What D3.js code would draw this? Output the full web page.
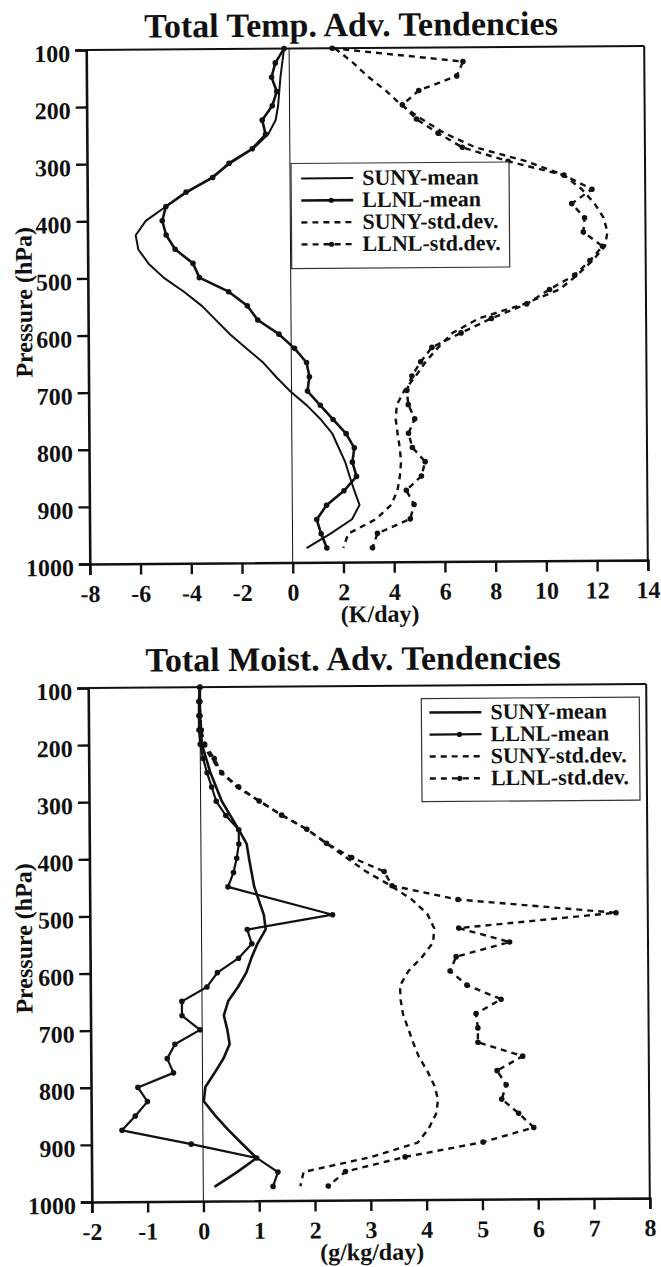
<!DOCTYPE html>
<html>
<head>
<meta charset="utf-8">
<script src="https://cdn.jsdelivr.net/npm/d3@7"></script>
<style>
	body { margin: 0; background: #fff; }
	svg text { font-family: "Liberation Serif", "Times New Roman", serif; font-weight: bold; fill: #111; }
</style>
</head>
<body>
<div id="chart"></div>
<script>

// pressure ticks shared by both panels
var pressureTicks = [100, 200, 300, 400, 500, 600, 700, 800, 900, 1000]
var tempTicks = [-8, -6, -4, -2, 0, 2, 4, 6, 8, 10, 12, 14]
var moistTicks = [-2, -1, 0, 1, 2, 3, 4, 5, 6, 7, 8]
var legendNames = ["SUNY-mean", "LLNL-mean", "SUNY-std.dev.", "LLNL-std.dev."]

// top panel, K/day : [pressure, value]
var tempSunyMean = [[100,-0.2],[150,-0.35],[200,-0.45],[225,-0.55],[250,-0.85],[275,-1.45],[300,-2.35],[325,-3.1],[350,-4.05],[375,-4.9],[400,-5.7],[425,-6.1],[450,-6.0],[475,-5.6],[500,-5.0],[525,-4.2],[550,-3.5],[575,-2.95],[600,-2.4],[625,-1.75],[650,-1.1],[675,-0.6],[700,-0.05],[725,0.6],[750,1.15],[775,1.6],[800,1.85],[825,2.1],[850,2.27],[875,2.45],[900,2.65],[925,2.35],[950,1.5],[975,0.55]]

var tempLlnlMean = [[100,-0.2],[125,-0.55],[150,-0.7],[175,-0.5],[200,-0.68],[225,-1.08],[250,-0.95],[275,-1.48],[300,-2.4],[325,-3.05],[350,-4.1],[375,-4.9],[400,-5.05],[425,-4.9],[450,-4.55],[475,-3.85],[500,-3.6],[525,-2.45],[550,-1.72],[575,-1.31],[600,-0.48],[625,0.13],[650,0.6],[675,0.71],[700,0.63],[725,1.13],[750,1.63],[775,2.14],[800,2.46],[825,2.38],[850,2.54],[875,2.04],[900,1.35],[925,0.96],[950,1.13],[975,1.35]]

var tempSunyStd = [[100,1.8],[125,2.5],[150,3.1],[175,3.8],[200,4.4],[225,5.2],[250,6.1],[275,7.3],[300,9.3],[325,10.8],[350,11.5],[375,12.0],[400,12.35],[425,12.5],[450,12.4],[475,11.9],[500,11.3],[525,10.6],[550,9.2],[575,7.4],[600,6.36],[625,5.8],[650,5.3],[675,4.9],[700,4.45],[725,4.15],[750,4.1],[775,4.17],[800,4.25],[825,4.3],[850,4.25],[875,4.15],[900,3.9],[925,3.3],[950,2.2],[975,2.0]]

var tempLlnlStd = [[100,1.7],[125,6.85],[150,6.6],[175,5.1],[200,4.45],[225,5.0],[250,5.85],[275,6.8],[300,8.6],[325,10.8],[350,11.9],[375,11.1],[400,11.6],[425,11.55],[450,12.3],[475,11.8],[500,11.2],[525,10.2],[550,9.3],[575,7.9],[600,6.7],[625,5.55],[650,5.1],[675,4.75],[700,4.55],[725,4.6],[750,4.85],[775,4.6],[800,4.75],[825,5.25],[850,5.1],[875,4.5],[900,4.8],[925,4.65],[950,3.35],[975,3.15]]

// bottom panel, g/kg/day : [pressure, value]
var moistSunyMean = [[100,0],[150,0.0],[200,0.03],[250,0.18],[300,0.38],[350,0.68],[375,0.82],[400,0.86],[450,0.95],[500,1.12],[525,1.15],[550,1.0],[575,0.89],[600,0.8],[625,0.65],[650,0.47],[675,0.39],[700,0.45],[725,0.49],[750,0.38],[775,0.22],[800,0.05],[825,0.02],[850,0.22],[875,0.45],[900,0.7],[925,0.96],[950,0.6],[975,0.2]]

var moistLlnlMean = [[100,0],[125,-0.02],[150,-0.02],[175,-0.02],[200,0.0],[225,0.05],[250,0.12],[275,0.2],[300,0.28],[325,0.45],[350,0.68],[375,0.68],[400,0.64],[425,0.58],[450,0.48],[500,2.35],[525,0.82],[550,0.9],[575,0.66],[600,0.28],[625,0.09],[650,-0.36],[675,-0.36],[700,-0.04],[725,-0.49],[750,-0.63],[775,-0.52],[800,-1.16],[825,-0.99],[850,-1.21],[875,-1.45],[900,-0.21],[925,0.96],[950,1.34],[975,1.25]]

var moistSunyStd = [[100,0],[150,0.0],[200,0.05],[225,0.2],[250,0.38],[275,0.65],[300,1.05],[325,1.45],[350,1.9],[375,2.25],[400,2.6],[425,2.96],[450,3.4],[475,3.78],[500,4.05],[525,4.17],[550,4.15],[575,3.95],[600,3.7],[625,3.55],[650,3.56],[675,3.6],[700,3.69],[725,3.78],[750,3.88],[775,4.03],[800,4.15],[825,4.22],[850,4.18],[875,4.05],[900,3.85],[925,3.0],[950,1.8],[975,1.74]]

var moistLlnlStd = [[100,0],[125,0],[150,0.0],[175,0.02],[200,0.08],[225,0.25],[250,0.38],[275,0.68],[300,1.05],[325,1.45],[350,1.9],[375,2.25],[400,2.7],[425,3.28],[450,3.42],[475,4.6],[500,7.43],[525,4.61],[550,5.52],[575,4.56],[600,4.45],[625,4.75],[650,5.36],[675,4.91],[700,4.94],[725,4.94],[750,5.74],[775,5.28],[800,5.44],[825,5.36],[850,5.66],[875,5.93],[900,5.02],[925,3.62],[950,2.55],[975,2.24]]

var svg = d3.select("#chart").append("svg")
			.attr("width", 661)
			.attr("height", 1267)

// plain hyphen for negatives, like the original figure
var plainFormat = function(d) { return String(d) }

function drawPanel(opts) {

	var box = opts.box
	var cx = (box.left + box.right) / 2
	var cy = (box.top + box.bottom) / 2

	// the scan is a little tilted
	var g = svg.append("g")
		.attr("transform", "rotate(" + opts.tilt + "," + cx + "," + cy + ")")

	var x = d3.scaleLinear()
		.domain(opts.xDomain)
		.range([box.left, box.right])

	var y = d3.scaleLinear()
		.domain([100, 1000])
		.range([box.top, box.bottom])

	g.append("text")
		.attr("x", opts.titleX)
		.attr("y", opts.titleY)
		.attr("text-anchor", "middle")
		.style("font-size", "34px")
		.text(opts.title)

	// frame (top and right lines are lighter)
	g.append("line")
		.attr("x1", box.left).attr("y1", box.top)
		.attr("x2", box.right).attr("y2", box.top)
		.attr("stroke", "#111").attr("stroke-width", 2)

	g.append("line")
		.attr("x1", box.right).attr("y1", box.top)
		.attr("x2", box.right).attr("y2", box.bottom)
		.attr("stroke", "#111").attr("stroke-width", 2)

	// zero line
	g.append("line")
		.attr("x1", x(0)).attr("y1", box.top)
		.attr("x2", x(0)).attr("y2", box.bottom)
		.attr("stroke", "#111").attr("stroke-width", 1)

	var xAxis = d3.axisBottom(x)
		.tickValues(opts.xTicks)
		.tickSize(11)
		.tickPadding(10)
		.tickFormat(plainFormat)

	var yAxis = d3.axisLeft(y)
		.tickValues(pressureTicks)
		.tickSize(11)
		.tickPadding(5)
		.tickFormat(plainFormat)

	var gx = g.append("g")
		.attr("transform", "translate(0," + box.bottom + ")")
		.call(xAxis)

	var gy = g.append("g")
		.attr("transform", "translate(" + box.left + ",0)")
		.call(yAxis)

	;[gx, gy].forEach(function(a) {
		a.select(".domain").attr("stroke", "#111").attr("stroke-width", 2.6)
		a.selectAll(".tick line").attr("stroke", "#111").attr("stroke-width", 2.4)
		a.selectAll(".tick text")
			.style("font-size", "24px")
			.style("font-family", "'Liberation Serif', 'Times New Roman', serif")
			.style("font-weight", "bold")
			.attr("fill", "#111")
	})
	gy.selectAll(".tick text").attr("dy", "0.47em")

	g.append("text")
		.attr("transform", "translate(32," + opts.yLabelY + ") rotate(-90)")
		.attr("text-anchor", "middle")
		.style("font-size", "24px")
		.text("Pressure (hPa)")

	g.append("text")
		.attr("x", opts.xLabelX)
		.attr("y", opts.xLabelY)
		.attr("text-anchor", "middle")
		.style("font-size", "24px")
		.text(opts.xLabel)

	var line = d3.line()
		.x(function(d) { return x(d[1]) })
		.y(function(d) { return y(d[0]) })

	var series = [
		{data: opts.sunyMean, dash: null, dots: false, width: opts.sunyWidth},
		{data: opts.llnlMean, dash: null, dots: true, width: opts.llnlWidth},
		{data: opts.sunyStd, dash: "6,5", dots: false, width: 2.4},
		{data: opts.llnlStd, dash: "6,5", dots: true, width: 2.4}
	]

	series.forEach(function(s) {
		g.append("path")
			.datum(s.data)
			.attr("fill", "none")
			.attr("stroke", "#111")
			.attr("stroke-width", s.width)
			.attr("stroke-linejoin", "round")
			.attr("stroke-dasharray", s.dash)
			.attr("d", line)

		if (s.dots) {
			g.selectAll(null)
				.data(s.data)
				.enter().append("circle")
				.attr("cx", function(d) { return x(d[1]) })
				.attr("cy", function(d) { return y(d[0]) })
				.attr("r", 2.8)
				.attr("fill", "#111")
		}
	})

	// legend
	var lg = opts.legend
	g.append("rect")
		.attr("x", lg.x).attr("y", lg.y)
		.attr("width", lg.w).attr("height", lg.h)
		.attr("fill", "#fff")
		.attr("stroke", "#333")
		.attr("stroke-width", 1.2)

	legendNames.forEach(function(name, i) {
		var s = series[i]
		var ly = lg.y + lg.first + i * lg.step
		g.append("line")
			.attr("x1", lg.x + lg.pad).attr("y1", ly)
			.attr("x2", lg.x + lg.pad + 52).attr("y2", ly)
			.attr("stroke", "#111")
			.attr("stroke-width", s.width)
			.attr("stroke-dasharray", s.dash)
		if (s.dots) {
			g.append("circle")
				.attr("cx", lg.x + lg.pad + 30).attr("cy", ly)
				.attr("r", 2.6).attr("fill", "#111")
		}
		g.append("text")
			.attr("x", lg.x + lg.pad + 61)
			.attr("y", ly + 7)
			.style("font-size", "22px")
			.text(name)
	})
}

drawPanel({
	box: {left: 88, right: 646, top: 48, bottom: 562},
	tilt: -0.4,
	xDomain: [-8, 14],
	xTicks: tempTicks,
	title: "Total Temp. Adv. Tendencies",
	titleX: 353, titleY: 36,
	xLabel: "(K/day)", xLabelX: 378, xLabelY: 622,
	yLabelY: 300,
	sunyMean: tempSunyMean, llnlMean: tempLlnlMean,
	sunyStd: tempSunyStd, llnlStd: tempLlnlStd,
	sunyWidth: 2.0, llnlWidth: 2.6,
	legend: {x: 292, y: 163, w: 218, h: 105, pad: 10, first: 15, step: 22}
})

drawPanel({
	box: {left: 90, right: 648, top: 686, bottom: 1200},
	tilt: -0.4,
	xDomain: [-2, 8],
	xTicks: moistTicks,
	title: "Total Moist. Adv. Tendencies",
	titleX: 355, titleY: 670,
	xLabel: "(g/kg/day)", xLabelX: 370, xLabelY: 1260,
	yLabelY: 936,
	sunyMean: moistSunyMean, llnlMean: moistLlnlMean,
	sunyStd: moistSunyStd, llnlStd: moistLlnlStd,
	sunyWidth: 2.6, llnlWidth: 2.2,
	legend: {x: 423, y: 699, w: 218, h: 103, pad: 8, first: 14, step: 22}
})

</script>
</body>
</html>
